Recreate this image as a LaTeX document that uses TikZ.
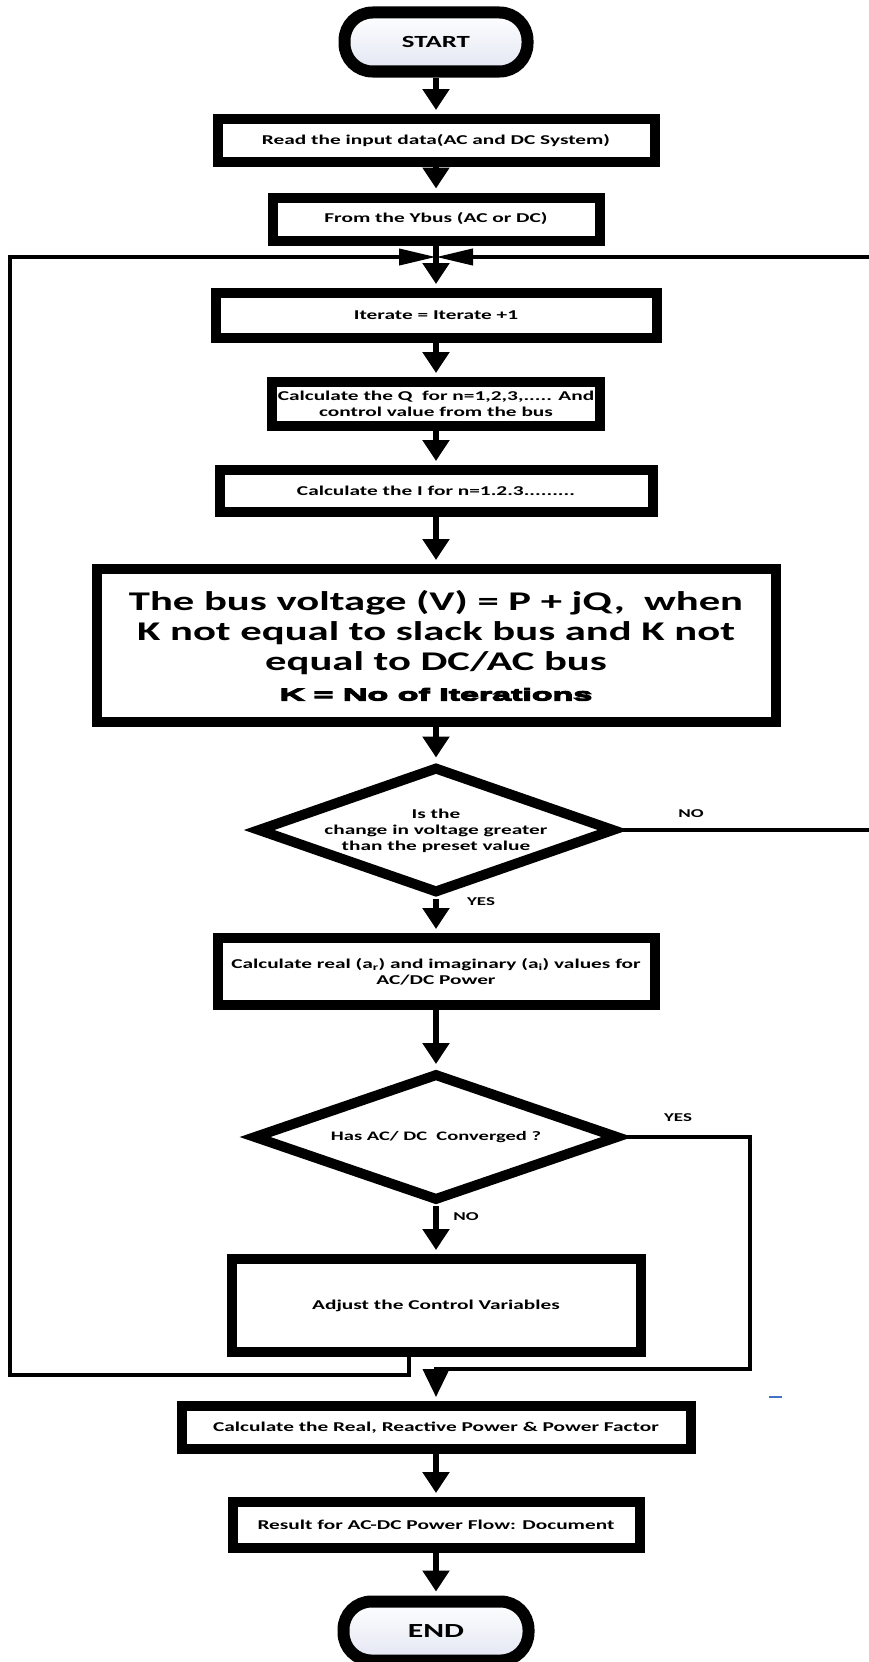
\documentclass[tikz,border=0pt]{standalone}
\usepackage{fontspec}
\newfontfamily\cf[FakeStretch=1.58]{Carlito}
\newfontfamily\heavyfont[FakeBold=7,FakeStretch=2.0]{Liberation Sans}
\usetikzlibrary{arrows.meta,shapes.geometric}
\definecolor{termA}{RGB}{226,230,242}
\definecolor{dashblue}{RGB}{68,114,196}
\begin{document}
\begin{tikzpicture}[x=1pt,y=-1pt,
  box/.style={draw, line width=10pt, fill=white, inner sep=2pt, align=center,
    font=\cf\bfseries\fontsize{13.5}{16}\selectfont},
  term/.style={draw, line width=12pt, rounded corners=28pt, top color=white, bottom color=termA,
    align=center, inner sep=0pt},
  dia/.style={draw, diamond, line width=10pt, fill=white, inner sep=0pt},
  dtext/.style={align=center, inner sep=0pt},
  flow/.style={line width=6.5pt, -{Triangle[width=26pt,length=21pt]}, shorten >=4pt},
  loopline/.style={line width=4pt},
  looptip/.style={-{Triangle[width=16pt,length=37pt]}},
  lbl/.style={font=\cf\bfseries\fontsize{12}{14}\selectfont, inner sep=0pt}
]
\useasboundingbox (0,0) rectangle (869,1662);

\node[term, minimum width=183pt, minimum height=59pt, font=\cf\bfseries\fontsize{17}{20}\selectfont] (st) at (436,42) {START};
\node[box, minimum width=437pt, minimum height=43pt] (rd) at (436,140.5) {Read the input data(AC and DC System)};
\node[box, minimum width=327pt, minimum height=43pt] (yb) at (436,219) {From the Ybus (AC or DC)};
\node[box, minimum width=441pt, minimum height=45pt] (it) at (436,315.5) {Iterate = Iterate +1};
\node[box, minimum width=328pt, minimum height=44pt] (cq) at (436,404) {Calculate the Q\ \ for n=1,2,3,..... And\\control value from the bus};
\node[box, minimum width=433pt, minimum height=42pt] (ci) at (436,491) {Calculate the I for n=1.2.3.........};
\node[box, minimum width=679pt, minimum height=153pt, font=\cf\bfseries\fontsize{27}{30}\selectfont] (bg) at (436,645.5)
  {The bus voltage (V) = P + jQ,\ \ when\\K not equal to slack bus and K not\\equal to DC/AC bus\\{\heavyfont\bfseries\fontsize{17}{27}\selectfont K = No of Iterations}};
\node[dia, minimum width=358pt, minimum height=127pt, aspect=2.8] (d1) at (436,830) {};
\node[dtext, font=\cf\bfseries\fontsize{13.5}{16}\selectfont] (d1t) at (436,831) {Is the\\change in voltage greater\\than the preset value};
\node[box, minimum width=437pt, minimum height=67pt] (cr) at (436,971.5)
  {Calculate real (a\textsubscript{r}) and imaginary (a\textsubscript{i}) values for\\AC/DC Power};
\node[dia, minimum width=366pt, minimum height=128pt, aspect=2.85] (d2) at (436,1137) {};
\node[dtext, font=\cf\bfseries\fontsize{13}{16}\selectfont] (d2t) at (436,1137) {Has AC/ DC\ \ Converged ?};
\node[box, minimum width=409pt, minimum height=93pt] (ad) at (436,1305.5) {Adjust the Control Variables};
\node[box, minimum width=509pt, minimum height=43pt] (cp) at (436,1427.5) {Calculate the Real, Reactive Power \& Power Factor};
\node[box, minimum width=407pt, minimum height=46pt] (rs) at (436,1525) {Result for AC-DC Power Flow: Document};
\node[term, minimum width=185pt, minimum height=59pt, font=\cf\bfseries\fontsize{20}{24}\selectfont] (en) at (436,1631) {END};

% labels
\node[lbl] (l1) at (691,814) {NO};
\node[lbl] (l2) at (481,902) {YES};
\node[lbl] (l3) at (678,1118) {YES};
\node[lbl] (l4) at (466,1217) {NO};

% coordinates
\coordinate (jn) at (436,257);
\coordinate (lpb) at (409,1375);
\coordinate (lpl) at (10,1375);
\coordinate (rr) at (885,830);
\coordinate (yr) at (750,1369);

% main flow
\draw[flow] (st.south) -- (rd.north);
\draw[flow] (rd.south) -- (yb.north);
\draw[flow] (yb.south) -- (it.north);
\draw[flow] (it.south) -- (cq.north);
\draw[flow] (cq.south) -- (ci.north);
\draw[flow] (ci.south) -- (bg.north);
\draw[flow] (bg.south) -- (d1.north);
\draw[flow] (d1.south) -- (cr.north);
\draw[flow] (cr.south) -- (d2.north);
\draw[flow] (d2.south) -- (ad.north);
\draw[flow] (cp.south) -- (rs.north);
\draw[flow] (rs.south) -- (en.north);

% loops
\draw[loopline, looptip] (ad.south -| lpb) -- (lpb) -- (lpl) -- (lpl |- jn) -- (jn);
\draw[loopline, looptip] (d1.east) -- (rr) -- (rr |- jn) -- (jn);
\draw[loopline, -{Triangle[width=26pt,length=28pt]}, shorten >=4pt] (d2.east) -- (d2.east -| yr) -- (yr) -- (yr -| cp.north) -- (cp.north);

% small blue mark
\draw[dashblue, line width=2pt] (769,1397) -- (782,1397);
\end{tikzpicture}
\end{document}
